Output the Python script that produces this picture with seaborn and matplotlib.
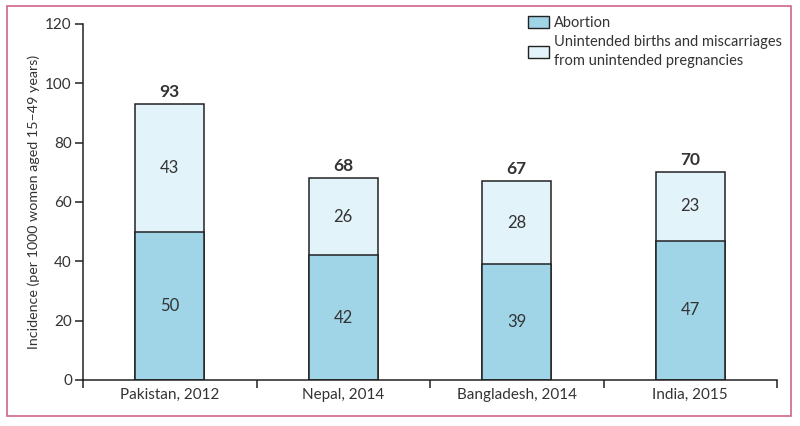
import matplotlib
matplotlib.use("Agg")
import matplotlib.pyplot as plt
import matplotlib.patches as mpatches
import seaborn as sns
import pandas as pd

# Données
countries = ["Pakistan, 2012", "Nepal, 2014", "Bangladesh, 2014", "India, 2015"]
abortion = [50, 42, 39, 47]
unintended = [43, 26, 28, 23]
totals = [93, 68, 67, 70]

col_abortion = "#9fd5e7"
col_unintended = "#e2f3f9"
edge = "#222222"
text_col = "#333333"

sns.set_theme(style="white")
plt.rcParams["font.family"] = ["Lato", "DejaVu Sans"]

df = pd.DataFrame({
    "country": countries,
    "abortion": abortion,
    "unintended": unintended,
    "total": [a + u for a, u in zip(abortion, unintended)],
})

fig = plt.figure(figsize=(8, 4.26), dpi=100)
ax = fig.add_axes([0.10375, 0.108, 0.8675, 0.8357])

# Barres empilées : total en clair, avortement par-dessus
sns.barplot(data=df, x="country", y="total", color=col_unintended, width=0.4,
            edgecolor=edge, linewidth=1.1, saturation=1, ax=ax)
sns.barplot(data=df, x="country", y="abortion", color=col_abortion, width=0.4,
            edgecolor=edge, linewidth=1.1, saturation=1, ax=ax)

for i in range(len(countries)):
    ax.text(i, abortion[i] / 2, str(abortion[i]), ha="center", va="center",
            fontsize=12, color=text_col)
    ax.text(i, abortion[i] + unintended[i] / 2, str(unintended[i]), ha="center",
            va="center", fontsize=12, color=text_col)
    ax.text(i, df["total"][i] + 1.5, str(totals[i]), ha="center", va="bottom",
            fontsize=12.5, fontweight="bold", color=text_col)

ax.set_xlim(-0.5, len(countries) - 0.5)
ax.set_ylim(0, 120)
ax.set_yticks(range(0, 121, 20))
ax.set_xticks([i - 0.5 for i in range(len(countries) + 1)], minor=False)
ax.set_xticklabels([])
ax.set_xticks(range(len(countries)), minor=True)
ax.set_xticklabels(countries, minor=True)
ax.tick_params(axis="x", which="major", direction="out", length=6, width=1.1,
               color=edge, bottom=True)
ax.tick_params(axis="x", which="minor", length=0, labelsize=11, labelcolor=text_col, pad=6)
ax.tick_params(axis="y", direction="out", length=6, width=1.1, color=edge, left=True,
               labelsize=11, labelcolor=text_col, pad=2)
ax.set_xlabel("")
ax.set_ylabel("Incidence (per 1000 women aged 15–49 years)", fontsize=10.3, color=text_col)

sns.despine(ax=ax)
for s in ["left", "bottom"]:
    ax.spines[s].set_color(edge)
    ax.spines[s].set_linewidth(1.1)

handles = [
    mpatches.Patch(facecolor=col_abortion, edgecolor=edge, linewidth=1, label="Abortion"),
    mpatches.Patch(facecolor=col_unintended, edgecolor=edge, linewidth=1,
                   label="Unintended births and miscarriages\nfrom unintended pregnancies"),
]
leg = fig.legend(handles=handles, loc="upper left", bbox_to_anchor=(0.651, 0.98),
                 frameon=False, fontsize=10.5, handlelength=1.4, handleheight=0.9,
                 handletextpad=0.35, labelspacing=0.35, borderpad=0)
for t in leg.get_texts():
    t.set_color(text_col)
    t.set_linespacing(1.45)

# Cadre rose autour de la figure
fig.patches.append(mpatches.Rectangle((0.009, 0.023), 0.98, 0.963, transform=fig.transFigure,
                                      fill=False, edgecolor="#d0648c", linewidth=1.2))

fig.savefig("out.png", dpi=100)
